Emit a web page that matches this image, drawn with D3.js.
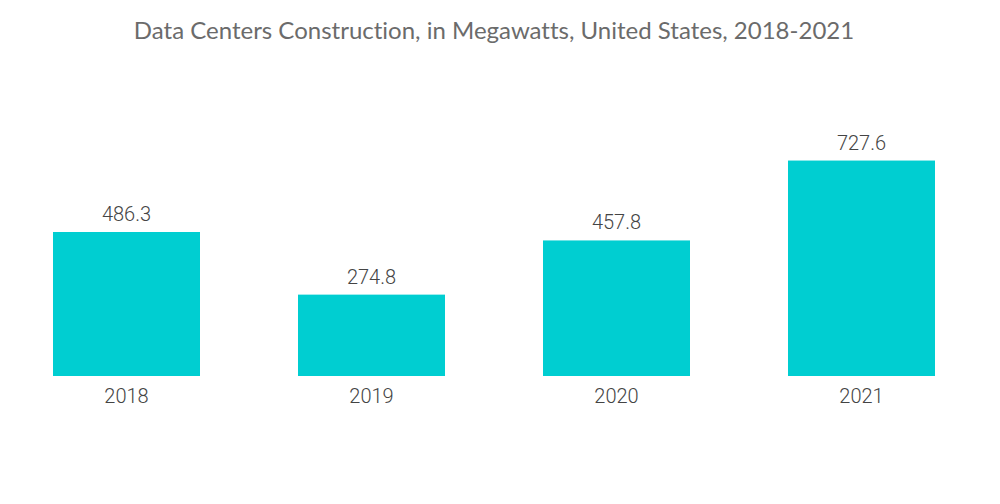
<html>
<script src="https://d3js.org/d3.v7.min.js"></script>
<style>
body { margin: 0; background: #fff; }
</style>
<body>
<svg width="1000" height="504"></svg>
<script>
var years = ["2018", "2019", "2020", "2021"];
var megawatts = [486.3, 274.8, 457.8, 727.6];
var title = "Data Centers Construction, in Megawatts, United States, 2018-2021";

var svg = d3.select("svg");

var x = d3.scaleBand().domain(years).range([53, 935]).paddingInner(0.4).paddingOuter(0);
var y = d3.scaleLinear().domain([0, 486.3]).range([376, 232]);

svg.append("text")
  .attr("x", 494).attr("y", 39)
  .attr("text-anchor", "middle")
  .style("font-family", "Lato, 'Open Sans', sans-serif")
  .style("font-size", "24px")
  .style("font-variant-ligatures", "none")
  .style("fill", "#6b6b6b")
  .text(title);

svg.selectAll("rect.bar")
  .data(megawatts)
  .enter().append("rect")
  .attr("class", "bar")
  .attr("x", function(d, i) { return x(years[i]); })
  .attr("y", function(d) { return y(d); })
  .attr("width", x.bandwidth())
  .attr("height", function(d) { return y(0) - y(d); })
  .style("fill", "#00ced1");

svg.selectAll("text.val")
  .data(megawatts)
  .enter().append("text")
  .attr("class", "val")
  .attr("x", function(d, i) { return x(years[i]) + x.bandwidth() / 2; })
  .attr("y", function(d) { return y(d) - 11; })
  .attr("text-anchor", "middle")
  .style("font-family", "Roboto, sans-serif")
  .style("font-size", "20px")
  .style("font-weight", "300")
  .style("fill", "#444")
  .text(function(d) { return d.toFixed(1); });

var xAxis = svg.append("g")
  .attr("transform", "translate(0,376)")
  .call(d3.axisBottom(x).tickSize(0).tickPadding(13));
xAxis.select(".domain").remove();
xAxis.selectAll("text")
  .style("font-family", "Roboto, sans-serif")
  .style("font-size", "20px")
  .style("font-weight", "300")
  .style("fill", "#444");
</script>
</body>
</html>
